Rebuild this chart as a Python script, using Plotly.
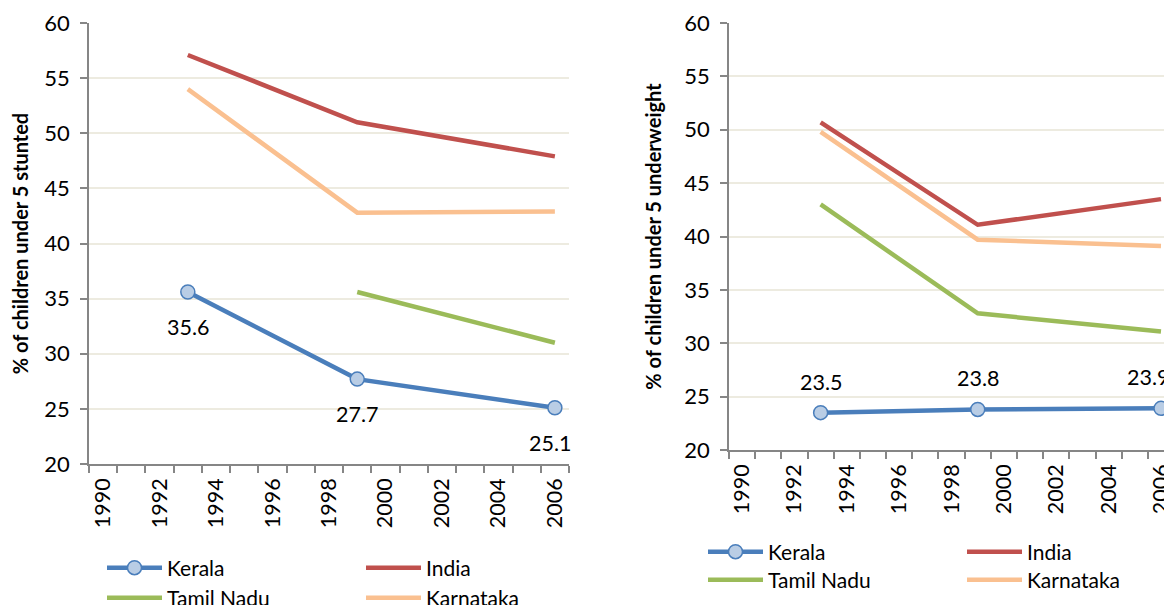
import plotly.graph_objects as go

# survey years (NFHS rounds) and series values
years = [1993, 1999, 2006]

stunted_kerala = [35.6, 27.7, 25.1]
stunted_india = [57.1, 51.0, 47.9]
stunted_tamil_nadu = [None, 35.6, 31.0]
stunted_karnataka = [54.0, 42.8, 42.9]

underweight_kerala = [23.5, 23.8, 23.9]
underweight_india = [50.7, 41.1, 43.5]
underweight_tamil_nadu = [43.0, 32.8, 31.1]
underweight_karnataka = [49.8, 39.7, 39.1]

x_tick_years = [1990, 1992, 1994, 1996, 1998, 2000, 2002, 2004, 2006]
y_ticks = [20, 25, 30, 35, 40, 45, 50, 55, 60]

BLUE = "#4A7EBB"
RED = "#C0504D"
GREEN = "#9BBB59"
PEACH = "#FAC090"
FONT = "Lato, 'Noto Sans', sans-serif"
AXIS_GRAY = "#868686"
GRID = "#EDEBE0"

# the page body has an 8px margin, so the figure is sized to fill the window
OFF = 8
W, H = 1172 - OFF, 605 - OFF


def px(x):
    return (x - OFF) / W


def py(y):
    return 1 - (y - OFF) / H


fig = go.Figure()


def add_panel(xa, ya, kerala, india, tamil, karnataka, legends):
    lw = 4.5
    fig.add_trace(go.Scatter(x=years, y=karnataka, name="Karnataka", mode="lines",
                             line=dict(color=PEACH, width=lw), xaxis=xa, yaxis=ya,
                             legend=legends[3]))
    fig.add_trace(go.Scatter(x=years, y=tamil, name="Tamil Nadu", mode="lines",
                             line=dict(color=GREEN, width=lw), xaxis=xa, yaxis=ya,
                             legend=legends[2]))
    fig.add_trace(go.Scatter(x=years, y=india, name="India", mode="lines",
                             line=dict(color=RED, width=lw), xaxis=xa, yaxis=ya,
                             legend=legends[1]))
    fig.add_trace(go.Scatter(x=years, y=kerala, name="Kerala", mode="lines+markers",
                             line=dict(color=BLUE, width=lw),
                             marker=dict(size=14, color="#B9CDE5",
                                         line=dict(color=BLUE, width=1.5)),
                             cliponaxis=False, xaxis=xa, yaxis=ya,
                             legend=legends[0]))


add_panel("x", "y", stunted_kerala, stunted_india, stunted_tamil_nadu,
          stunted_karnataka, ["legend", "legend2", "legend3", "legend4"])
add_panel("x2", "y2", underweight_kerala, underweight_india, underweight_tamil_nadu,
          underweight_karnataka, ["legend5", "legend6", "legend7", "legend8"])

# data labels for Kerala (the last one is nudged inwards like the original)
nudge = [0, 0, -5]
for x, v, dx in zip(years, stunted_kerala, nudge):
    fig.add_annotation(x=x, y=v, xref="x", yref="y", text=f"{v}", showarrow=False,
                       yshift=-35, xshift=dx,
                       font=dict(family=FONT, size=21.5, color="#000"))
nudge = [0, 0, -13]
for x, v, dx in zip(years, underweight_kerala, nudge):
    fig.add_annotation(x=x, y=v, xref="x2", yref="y2", text=f"{v}", showarrow=False,
                       yshift=31, xshift=dx,
                       font=dict(family=FONT, size=21.5, color="#000"))


def xaxis(domain, rng, anchor):
    return dict(domain=domain, range=rng, anchor=anchor, automargin=False,
                tickvals=x_tick_years, ticks="", tickangle=-90, ticklabelstandoff=4,
                ticklabeloverflow="allow",
                showgrid=False, zeroline=False, showline=True,
                linecolor=AXIS_GRAY, linewidth=1.5,
                tickfont=dict(family=FONT, size=21.5, color="#000"),
                minor=dict(tick0=1989.5, dtick=1, ticks="outside", ticklen=7,
                           tickcolor=AXIS_GRAY, tickwidth=1.5, showgrid=False))


def yaxis(domain, anchor, title, standoff):
    return dict(domain=domain, anchor=anchor, range=[20, 60], tickvals=y_ticks,
                automargin=False,
                ticks="outside", ticklen=7, tickcolor=AXIS_GRAY, tickwidth=1.5,
                showline=True, linecolor=AXIS_GRAY, linewidth=1.5, zeroline=False,
                showgrid=True, gridcolor=GRID, gridwidth=1.5,
                tickfont=dict(family=FONT, size=22, color="#000"),
                ticklabelstandoff=6,
                title=dict(text=title, standoff=standoff,
                           font=dict(family=FONT, size=20, color="#000", weight="bold")))


def legend(x, y):
    return dict(x=px(x), y=py(y), xanchor="left", yanchor="middle",
                bgcolor="rgba(0,0,0,0)", itemwidth=55,
                font=dict(family=FONT, size=21, color="#000"))


fig.update_layout(
    template="none",
    width=W, height=H, plot_bgcolor="white", paper_bgcolor="white",
    margin=dict(l=0, r=0, t=0, b=0, autoexpand=False),
    showlegend=True,
    xaxis=xaxis([px(89), px(569)], [1989.5, 2006.5], "y"),
    yaxis=yaxis([py(464), py(23)], "x", "% of children under 5 stunted", 10),
    xaxis2=xaxis([px(729), 1.0], [1989.5, 2006.42], "y2"),
    yaxis2=yaxis([py(450), py(23)], "x2", "% of children under 5 underweight", 17),
    legend=legend(102, 568), legend2=legend(361, 568),
    legend3=legend(102, 598), legend4=legend(361, 598),
    legend5=legend(703, 552), legend6=legend(962, 552),
    legend7=legend(703, 580), legend8=legend(962, 580),
)

fig.write_html("out.html")
